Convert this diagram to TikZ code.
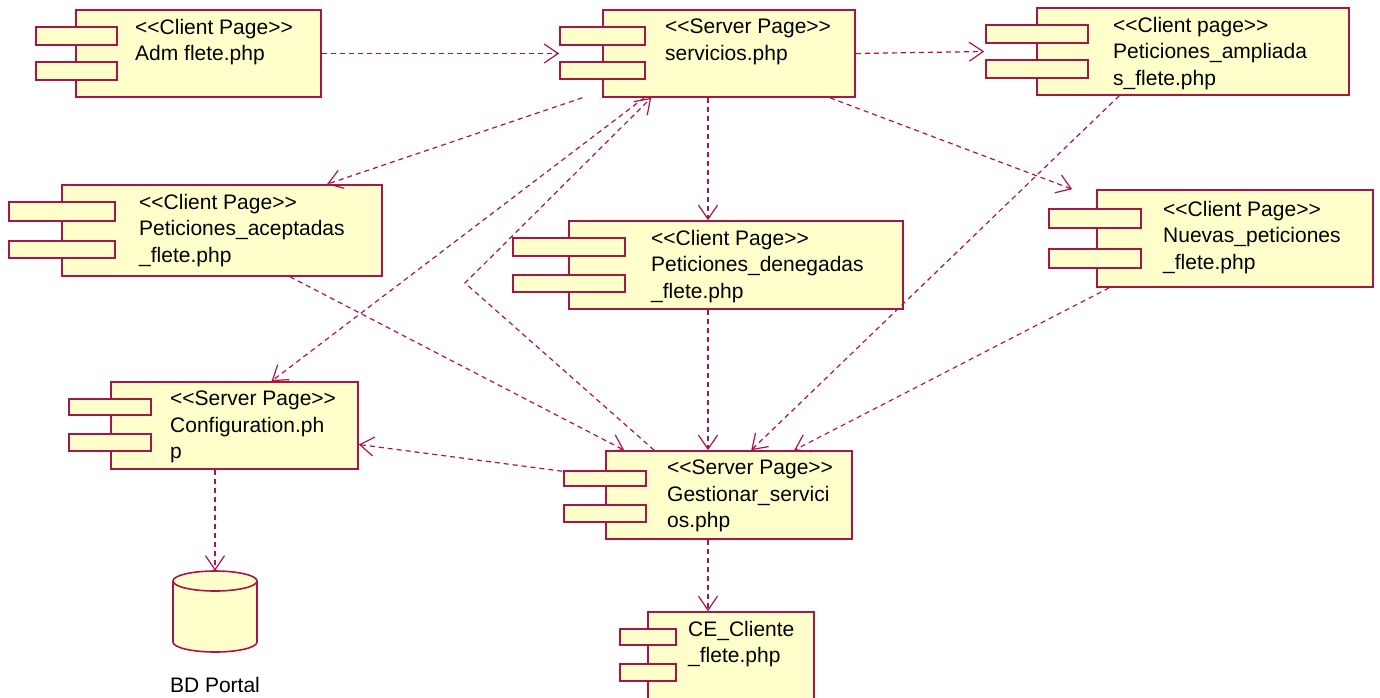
\documentclass[tikz,border=0pt]{standalone}
\usepackage{fontspec}
\setmainfont{Liberation Sans}
\usepackage{xcolor}
\usepackage{tikz}
\usetikzlibrary{positioning,arrows.meta}

\definecolor{umlline}{RGB}{168,22,70}
\definecolor{umlfill}{RGB}{255,255,204}

\begin{document}
\begin{tikzpicture}[
    x=1pt, y=-1pt,
    comp/.style={
        draw=umlline,
        fill=umlfill,
        line width=1.6pt,
        inner sep=0pt
    },
    tab/.style={
        draw=umlline,
        fill=umlfill,
        line width=1.6pt
    },
    txt/.style={
        anchor=north west,
        align=left,
        inner sep=0pt,
        font=\fontsize{21}{26.5}\selectfont
    },
    dep/.style={
        draw=umlline,
        line width=1.2pt,
        dash pattern=on 5pt off 4pt,
        -{Straight Barb[length=14pt, width=19pt, line width=1.2pt]}
    }
]

\useasboundingbox[fill=white] (0,0) rectangle (1380,697);

% components
\node[comp, minimum width=245pt, minimum height=87pt] (adm) at (198.5,53.5) {};
\draw[tab] (36,27) rectangle (117,45);
\draw[tab] (36,62) rectangle (117,80);
\node[txt] (admT) at (135,19) {<{}<Client Page>{}>\\Adm flete.php};

\node[comp, minimum width=252pt, minimum height=87pt] (serv) at (729,53.5) {};
\draw[tab] (560,27) rectangle (645,45);
\draw[tab] (560,62) rectangle (645,79);
\node[txt] (servT) at (665,19) {<{}<Server Page>{}>\\servicios.php};

\node[comp, minimum width=312pt, minimum height=87pt] (ampl) at (1193,51.5) {};
\draw[tab] (986,25) rectangle (1088,43);
\draw[tab] (986,60) rectangle (1088,78);
\node[txt] (amplT) at (1113,17) {<{}<Client page>{}>\\Peticiones\_ampliada\\s\_flete.php};

\node[comp, minimum width=320pt, minimum height=91pt] (acep) at (222,230.5) {};
\draw[tab] (9,202) rectangle (115,221);
\draw[tab] (9,241) rectangle (115,258);
\node[txt] (acepT) at (139,194) {<{}<Client Page>{}>\\Peticiones\_aceptadas\\\_flete.php};

\node[comp, minimum width=334pt, minimum height=88pt] (dene) at (736,265) {};
\draw[tab] (513,238) rectangle (625,256);
\draw[tab] (513,275) rectangle (625,292);
\node[txt] (deneT) at (651,230) {<{}<Client Page>{}>\\Peticiones\_denegadas\\\_flete.php};

\node[comp, minimum width=276pt, minimum height=97pt] (nuev) at (1235,238.5) {};
\draw[tab] (1049,209) rectangle (1141,228);
\draw[tab] (1049,249) rectangle (1141,268);
\node[txt] (nuevT) at (1163,201) {<{}<Client Page>{}>\\Nuevas\_peticiones\\\_flete.php};

\node[comp, minimum width=247pt, minimum height=87pt] (conf) at (234.5,425.5) {};
\draw[tab] (69,399) rectangle (151,415);
\draw[tab] (69,434) rectangle (151,451);
\node[txt] (confT) at (170,391) {<{}<Server Page>{}>\\Configuration.ph\\p};

\node[comp, minimum width=246pt, minimum height=88pt] (gest) at (729,495) {};
\draw[tab] (564,471) rectangle (646,486);
\draw[tab] (564,505) rectangle (646,522);
\node[txt] (gestT) at (667,460) {<{}<Server Page>{}>\\Gestionar\_servici\\os.php};

\node[comp, minimum width=166pt, minimum height=92pt] (ce) at (731,658) {};
\draw[tab] (620,629) rectangle (676,645);
\draw[tab] (620,664) rectangle (676,681);
\node[txt] (ceT) at (688,621) {CE\_Cliente\\\_flete.php};

% database
\node[inner sep=0pt, minimum width=84pt, minimum height=81pt] (bd) at (215,611.5) {};
\draw[tab] (173,581) -- (173,642) arc (180:0:42 and 10) -- (257,581)
    arc (0:-180:42 and 10) -- cycle;
\draw[tab] (173,581) arc (180:0:42 and 10);
\node[txt, anchor=north, below=25pt of bd] (bdT) {BD Portal};

% dependencies
\coordinate (bend) at (465,283);

\draw[dep] (adm.east) -- ([xshift=-43pt]serv.west);
\draw[dep] (serv.east) -- ([xshift=-52pt]ampl.west);
\draw[dep] ([xshift=-20pt]serv.south west) -- ([xshift=105pt]acep.north);
\draw[dep] ([xshift=-21pt]serv.south) -- ([xshift=-28pt]dene.north);
\draw[dep] ([xshift=101pt]serv.south) -- ([xshift=-24pt]nuev.north west);
\draw[dep] ([xshift=42pt]serv.south west) -- ([xshift=37pt]conf.north);
\draw[dep] ([xshift=49pt]gest.north west) -- (bend) -- ([xshift=49pt]serv.south west);

\draw[dep] ([xshift=68pt]acep.south) -- ([xshift=19pt]gest.north west);
\draw[dep] ([xshift=-28pt]dene.south) -- ([xshift=-21pt]gest.north);
\draw[dep] ([xshift=83pt]ampl.south west) -- ([xshift=146pt]gest.north west);
\draw[dep] ([xshift=13pt]nuev.south west) -- ([xshift=189pt]gest.north west);

\draw[dep] ([shift={(-43,21)}]gest.north west) -- ([shift={(0,19)}]conf.east);
\draw[dep] (conf.south -| bd.north) -- (bd.north);
\draw[dep] ([xshift=-21pt]gest.south) -- ([xshift=-21pt]gest.south |- ce.north);

\end{tikzpicture}
\end{document}
